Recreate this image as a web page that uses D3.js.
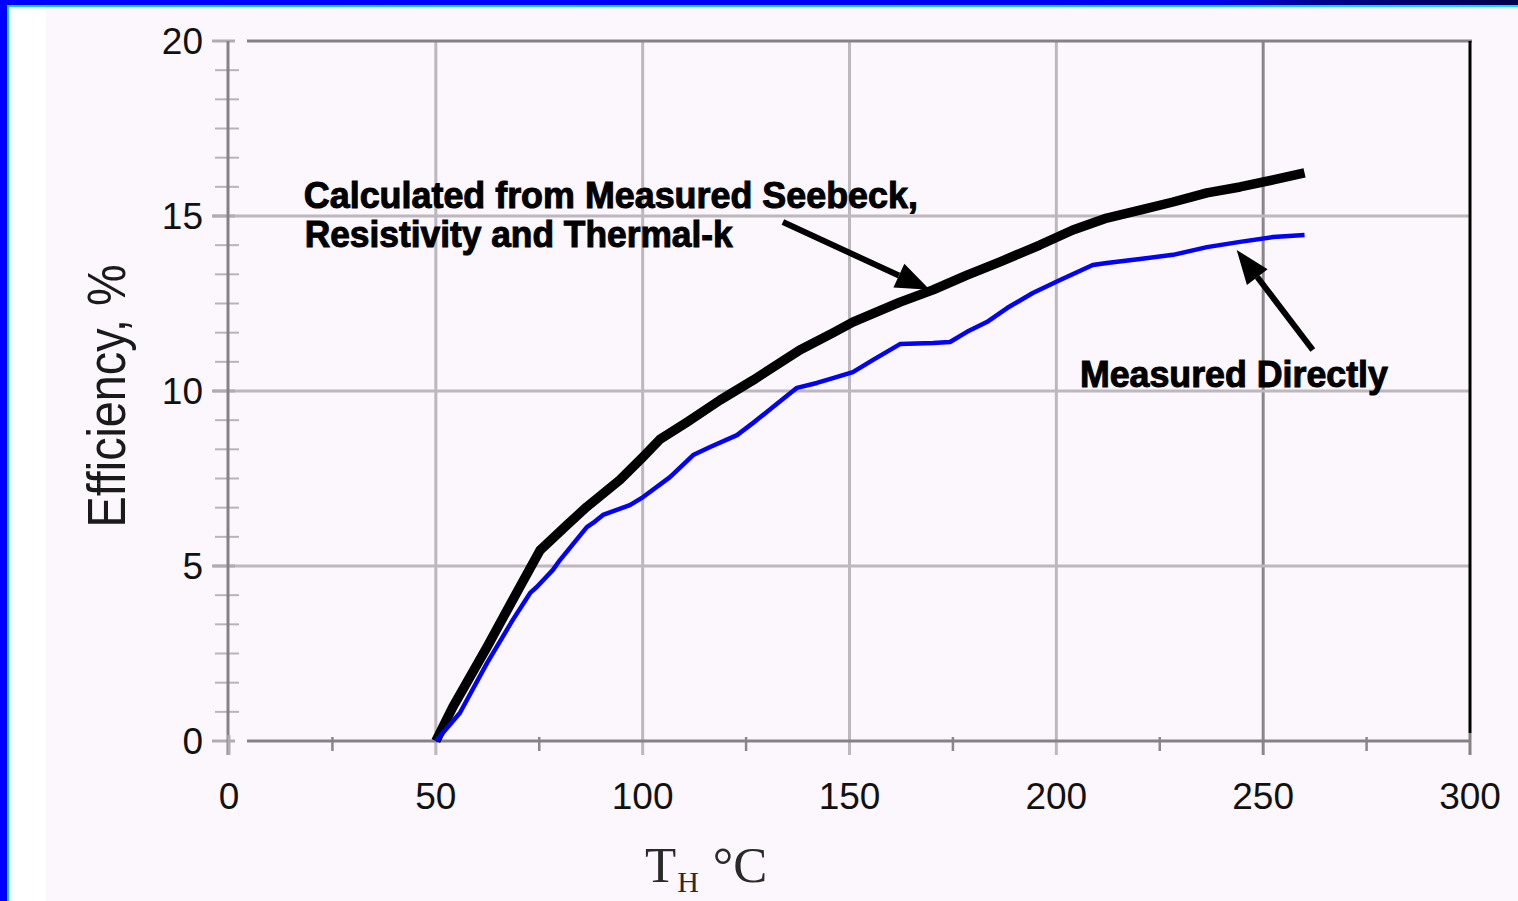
<!DOCTYPE html>
<html>
<head>
<meta charset="utf-8">
<script src="https://cdn.jsdelivr.net/npm/d3@7"></script>
<style>
html,body{margin:0;padding:0;background:#fcf7fc;overflow:hidden;}
svg{display:block;}
</style>
</head>
<body>
<svg id="chart" width="1518" height="901"></svg>
<script>
// ---- data ----
const xTicks = [0, 50, 100, 150, 200, 250, 300];
const yTicks = [0, 5, 10, 15, 20];
const xTickLabels = ["0", "50", "100", "150", "200", "250", "300"];
const yTickLabels = ["0", "5", "10", "15", "20"];

const calcT   = [50, 54.1, 62.4, 70.3, 75.2, 81.7, 86.5, 94.5, 100.1, 104.2, 110.7, 118.7, 126.7, 138, 146, 150.8, 162.2, 170.2, 178.4, 186.4, 196, 204, 212.2, 220.2, 228.2, 236.4, 244.4, 252.4, 260];
const calcEff = [0, 0.97, 2.69, 4.4, 5.45, 6.17, 6.69, 7.46, 8.12, 8.62, 9.11, 9.74, 10.31, 11.17, 11.66, 11.97, 12.54, 12.89, 13.31, 13.69, 14.17, 14.6, 14.94, 15.17, 15.4, 15.66, 15.83, 16.03, 16.23];

const measT   = [50, 55.8, 62.4, 68.6, 72.8, 74.4, 78.3, 80, 86.5, 88, 90.4, 96.9, 100.1, 106.6, 112.2, 116.3, 122.8, 126.7, 131.5, 137.3, 142.1, 146, 150.8, 155.7, 162.2, 170.2, 174.3, 178.4, 183.2, 188.1, 194.3, 200.9, 208.8, 212.2, 220.2, 228.2, 236.4, 244.4, 252.4, 260];
const measEff = [0, 0.8, 2.23, 3.46, 4.23, 4.4, 4.89, 5.17, 6.11, 6.23, 6.46, 6.74, 6.97, 7.54, 8.17, 8.4, 8.74, 9.09, 9.54, 10.09, 10.23, 10.37, 10.54, 10.89, 11.34, 11.37, 11.4, 11.69, 11.97, 12.37, 12.8, 13.17, 13.6, 13.66, 13.77, 13.89, 14.11, 14.26, 14.4, 14.46];

const calcLabel = ["Calculated from Measured Seebeck,", "Resistivity and Thermal-k"];
const calcLabelPos = [[18.1, 15.23], [18.3, 14.11]];
const calcLabelLen = [614, 428];
const calcArrow = [[133.9, 14.83], [169.4, 12.89]];
const measLabel = "Measured Directly";
const measLabelPos = [205.7, 10.11];
const measLabelLen = 308;
const measArrow = [[262.0, 11.17], [243.6, 14.03]];

const xTitle = "T";
const xTitleSub = "H";
const xTitleUnit = "°C";
const yTitle = "Efficiency, %";

// ---- setup ----
const W = 1518, H = 901;
const svg = d3.select("#chart");
const x = d3.scaleLinear().domain([0, 300]).range([229, 1470]);
const y = d3.scaleLinear().domain([0, 20]).range([741, 41]);

// frame / background
const defs = svg.append("defs");
const grad = defs.append("linearGradient").attr("id", "topbar").attr("x1", 0).attr("x2", 1).attr("y1", 0).attr("y2", 0);
[[0, "#0000ff"], [0.8, "#0000f0"], [0.87, "#000090"], [1, "#000048"]].forEach(s =>
  grad.append("stop").attr("offset", s[0]).attr("stop-color", s[1]));

svg.append("rect").attr("width", W).attr("height", H).attr("fill", "#fcf7fc");
svg.append("rect").attr("x", 0).attr("y", 0).attr("width", 46).attr("height", H).attr("fill", "#ffffff");
svg.append("rect").attr("x", 0).attr("y", 0).attr("width", W).attr("height", 5).attr("fill", "url(#topbar)");
svg.append("rect").attr("x", 7).attr("y", 5).attr("width", W - 7).attr("height", 2).attr("fill", "#10d8ff");
svg.append("rect").attr("x", 0).attr("y", 0).attr("width", 7).attr("height", H).attr("fill", "#0000ff");
svg.append("rect").attr("x", 7).attr("y", 5).attr("width", 2).attr("height", H).attr("fill", "#10d8ff");

const g = svg.append("g");

// gridlines
g.selectAll(".vgrid").data(xTicks.filter(d => d > 0 && d < 300)).enter().append("line")
  .attr("x1", d => x(d)).attr("x2", d => x(d))
  .attr("y1", y(20)).attr("y2", y(0) + 14)
  .attr("stroke", d => d === 250 ? "#8a868a" : "#bdb8bd").attr("stroke-width", 3);
g.selectAll(".hgrid").data(yTicks.filter(d => d > 0 && d < 20)).enter().append("line")
  .attr("x1", x(0) - 16).attr("x2", x(300))
  .attr("y1", d => y(d)).attr("y2", d => y(d))
  .attr("stroke", "#bdb8bd").attr("stroke-width", 3);

// y minor ticks (6 subdivisions per major)
const yMinor = d3.range(0, 25).map(i => i * 20 / 24).filter((d, i) => i % 6 !== 0);
g.selectAll(".yminor").data(yMinor).enter().append("line")
  .attr("x1", x(0) - 14).attr("x2", x(0) + 10)
  .attr("y1", d => y(d)).attr("y2", d => y(d))
  .attr("stroke", "#b8b4b8").attr("stroke-width", 2);
// y major tick stubs
g.selectAll(".ymajor").data(yTicks).enter().append("line")
  .attr("x1", x(0) - 17).attr("x2", x(0) + 6)
  .attr("y1", d => y(d)).attr("y2", d => y(d))
  .attr("stroke", "#b0acb0").attr("stroke-width", 3);

// x minor ticks
const xMinor = d3.range(25, 300, 50);
g.selectAll(".xminor").data(xMinor).enter().append("line")
  .attr("x1", d => x(d)).attr("x2", d => x(d))
  .attr("y1", y(0) - 4).attr("y2", y(0) + 10)
  .attr("stroke", "#8a868a").attr("stroke-width", 2.5);

// axes frame
g.append("line").attr("x1", x(0) + 18).attr("x2", x(300) + 2).attr("y1", y(20)).attr("y2", y(20))
  .attr("stroke", "#858185").attr("stroke-width", 3);
g.append("line").attr("x1", x(0) + 18).attr("x2", x(300)).attr("y1", y(0)).attr("y2", y(0))
  .attr("stroke", "#858185").attr("stroke-width", 3);
g.append("line").attr("x1", x(0) - 1).attr("x2", x(0) - 1).attr("y1", y(20)).attr("y2", y(0) + 14)
  .attr("stroke", "#858185").attr("stroke-width", 3);
g.append("line").attr("x1", x(300)).attr("x2", x(300)).attr("y1", y(20)).attr("y2", y(0) - 8)
  .attr("stroke", "#000").attr("stroke-width", 3);
g.append("line").attr("x1", x(300)).attr("x2", x(300)).attr("y1", y(0) - 8).attr("y2", y(0) + 14)
  .attr("stroke", "#858185").attr("stroke-width", 3);
g.append("line").attr("x1", x(0)).attr("x2", x(0)).attr("y1", y(0) - 6).attr("y2", y(0) + 14)
  .attr("stroke", "#b0acb0").attr("stroke-width", 3);

// tick labels
g.selectAll(".xlab").data(xTicks).enter().append("text")
  .attr("x", d => x(d)).attr("y", y(0) + 68)
  .attr("text-anchor", "middle")
  .attr("font-family", "Liberation Sans, Arial, sans-serif").attr("font-size", 37)
  .attr("fill", "#111")
  .text((d, i) => xTickLabels[i]);
g.selectAll(".ylab").data(yTicks).enter().append("text")
  .attr("x", 203).attr("y", d => y(d) + 13)
  .attr("text-anchor", "end")
  .attr("font-family", "Liberation Sans, Arial, sans-serif").attr("font-size", 37)
  .attr("fill", "#111")
  .text((d, i) => yTickLabels[i]);

// axis titles
const xt = g.append("text").attr("x", 645).attr("y", 882)
  .attr("font-family", "Liberation Serif, Times New Roman, serif").attr("font-size", 51)
  .attr("fill", "#2a2a2a");
xt.append("tspan").text(xTitle);
xt.append("tspan").attr("font-size", 30).attr("dy", 10).attr("dx", 1).text(xTitleSub);
xt.append("tspan").attr("dy", -10).attr("dx", 14).text(xTitleUnit);

g.append("text")
  .attr("transform", "translate(125,396) rotate(-90)")
  .attr("text-anchor", "middle")
  .attr("font-family", "Liberation Sans, Arial, sans-serif").attr("font-size", 54)
  .attr("textLength", 263).attr("lengthAdjust", "spacingAndGlyphs")
  .attr("fill", "#1a1a1a")
  .text(yTitle);

// series lines
const line = d3.line().x(d => x(d[0])).y(d => y(d[1])).curve(d3.curveLinear);
const calcData = calcT.map((t, i) => [t, calcEff[i]]);
const measData = measT.map((t, i) => [t, measEff[i]]);

g.append("path").datum(calcData).attr("d", line)
  .attr("fill", "none").attr("stroke", "#000").attr("stroke-width", 9.5)
  .attr("stroke-linejoin", "round").attr("stroke-linecap", "butt");
g.append("path").datum(measData).attr("d", line)
  .attr("fill", "none").attr("stroke", "#0000ff").attr("stroke-width", 4.5)
  .attr("stroke-linejoin", "round");

// arrows
function arrow(pts) {
  const x1 = x(pts[0][0]), y1 = y(pts[0][1]), x2 = x(pts[1][0]), y2 = y(pts[1][1]);
  const ang = Math.atan2(y2 - y1, x2 - x1);
  const L = 34, Wd = 13;
  const bx = x2 - L * Math.cos(ang), by = y2 - L * Math.sin(ang);
  g.append("line").attr("x1", x1).attr("y1", y1).attr("x2", bx).attr("y2", by)
    .attr("stroke", "#000").attr("stroke-width", 6);
  const p1 = [bx + Wd * Math.sin(ang), by - Wd * Math.cos(ang)];
  const p2 = [bx - Wd * Math.sin(ang), by + Wd * Math.cos(ang)];
  g.append("path").attr("d", `M${x2},${y2}L${p1[0]},${p1[1]}L${p2[0]},${p2[1]}Z`).attr("fill", "#000");
}
arrow(calcArrow);
arrow(measArrow);

// annotation labels
calcLabel.forEach((t, i) => {
  g.append("text").attr("x", x(calcLabelPos[i][0])).attr("y", y(calcLabelPos[i][1]))
    .attr("font-family", "Liberation Sans, Arial, sans-serif").attr("font-weight", "bold")
    .attr("font-size", 36).attr("fill", "#000")
    .attr("stroke", "#000").attr("stroke-width", 1)
    .attr("textLength", calcLabelLen[i]).attr("lengthAdjust", "spacingAndGlyphs")
    .text(t);
});
g.append("text").attr("x", x(measLabelPos[0])).attr("y", y(measLabelPos[1]))
  .attr("font-family", "Liberation Sans, Arial, sans-serif").attr("font-weight", "bold")
  .attr("font-size", 36).attr("fill", "#000")
  .attr("stroke", "#000").attr("stroke-width", 1)
  .attr("textLength", measLabelLen).attr("lengthAdjust", "spacingAndGlyphs")
  .text(measLabel);
</script>
</body>
</html>
